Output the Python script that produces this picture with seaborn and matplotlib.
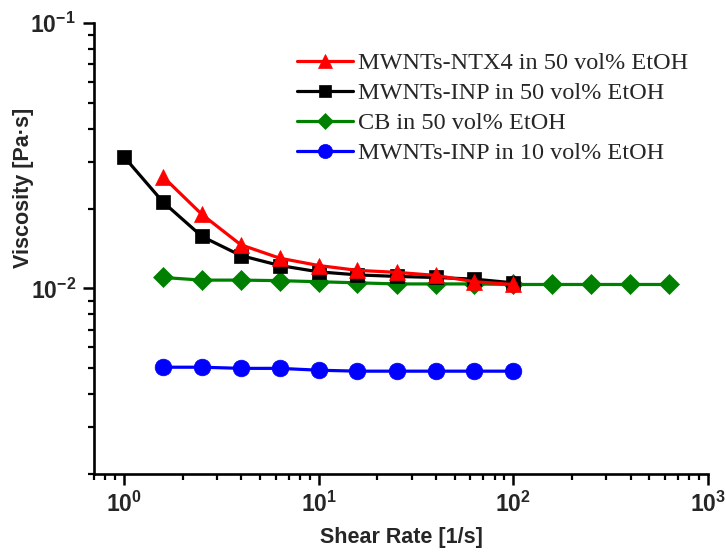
import numpy as np
import pandas as pd
import matplotlib
matplotlib.use("Agg")
import matplotlib.pyplot as plt
import matplotlib.ticker as mticker
import seaborn as sns

# ---- data ----
x_ntx4 = [1.58, 2.51, 3.98, 6.31, 10, 15.8, 25.1, 39.8, 63.1, 100]
y_ntx4 = [0.0264, 0.0190, 0.0146, 0.0130, 0.0122, 0.0117, 0.0115, 0.0112, 0.0106, 0.01035]

x_inp50 = [1.0, 1.58, 2.51, 3.98, 6.31, 10, 15.8, 25.1, 39.8, 63.1, 100]
y_inp50 = [0.0313, 0.0212, 0.0157, 0.0133, 0.0122, 0.01155, 0.01125, 0.0111, 0.0110, 0.01084, 0.0105]

x_cb = [1.58, 2.51, 3.98, 6.31, 10, 15.8, 25.1, 39.8, 63.1, 100, 158, 251, 398, 631]
y_cb = [0.0110, 0.01075, 0.01075, 0.0107, 0.0106, 0.0105, 0.0104, 0.0104, 0.0104,
        0.01035, 0.01035, 0.01035, 0.01035, 0.01035]

x_inp10 = [1.58, 2.51, 3.98, 6.31, 10, 15.8, 25.1, 39.8, 63.1, 100]
y_inp10 = [0.00505, 0.00505, 0.0050, 0.0050, 0.00492, 0.00488, 0.00488, 0.00488, 0.00488, 0.00488]

labels = ["MWNTs-NTX4 in 50 vol% EtOH", "MWNTs-INP in 50 vol% EtOH",
          "CB in 50 vol% EtOH", "MWNTs-INP in 10 vol% EtOH"]
xlabel = "Shear Rate [1/s]"
ylabel = "Viscosity [Pa\u00b7s]"

# ---- style ----
sns.set_style("ticks")
plt.rcParams["font.family"] = ["Liberation Sans", "DejaVu Sans"]
plt.rcParams["mathtext.fontset"] = "custom"
plt.rcParams["mathtext.rm"] = "Liberation Sans:bold"
plt.rcParams["mathtext.bf"] = "Liberation Sans:bold"
plt.rcParams["mathtext.it"] = "Liberation Sans:bold:italic"
plt.rcParams["mathtext.sf"] = "Liberation Sans:bold"

fig = plt.figure(figsize=(7.26, 5.54), dpi=100)
ax = fig.add_axes([94/726, 1-474/554, (708-94)/726, (474-23)/554])

series = [
    (x_ntx4, y_ntx4, "#FF0000", "^", 11.5, 5),
    (x_inp50, y_inp50, "#000000", "s", 10, 4),
    (x_cb, y_cb, "#008000", "D", 10, 3),
    (x_inp10, y_inp10, "#0000FF", "o", 12, 2),
]
for (xs, ys, c, m, ms, z), lab in zip(series, labels):
    df = pd.DataFrame({"x": xs, "y": ys})
    sns.lineplot(data=df, x="x", y="y", ax=ax, color=c, marker=m, markersize=ms,
                 markeredgecolor=c, markerfacecolor=c, markeredgewidth=0.5,
                 linewidth=2.3, label=lab, zorder=z, errorbar=None)

ax.set_xscale("log")
ax.set_yscale("log")
ax.set_xlim(0.7, 1000)
ax.set_ylim(0.002, 0.1)

fmt = mticker.FuncFormatter(lambda v, p: r"$\mathrm{10^{%d}}$" % int(round(np.log10(v))))
ax.xaxis.set_major_locator(mticker.LogLocator(base=10, numticks=10))
ax.yaxis.set_major_locator(mticker.LogLocator(base=10, numticks=10))
ax.xaxis.set_minor_locator(mticker.LogLocator(base=10, subs=np.arange(2, 10), numticks=20))
ax.yaxis.set_minor_locator(mticker.LogLocator(base=10, subs=np.arange(2, 10), numticks=20))
ax.xaxis.set_major_formatter(fmt)
ax.yaxis.set_major_formatter(fmt)
ax.xaxis.set_minor_formatter(mticker.NullFormatter())
ax.yaxis.set_minor_formatter(mticker.NullFormatter())

ax.tick_params(which="major", direction="out", length=8, width=1.8, labelsize=16.5, pad=5, color="black")
ax.tick_params(which="minor", direction="out", length=4, width=1.6, color="black")
for s in ["left", "bottom"]:
    ax.spines[s].set_linewidth(1.9)
    ax.spines[s].set_color("black")
sns.despine(ax=ax)

ax.set_xlabel(xlabel, fontsize=15.5, fontweight="bold", labelpad=7)
ax.set_ylabel(ylabel, fontsize=15.5, fontweight="bold")
ax.yaxis.set_label_coords(-0.098, 0.634)

leg = ax.legend(loc="upper left", bbox_to_anchor=(297/726, 1-52/554), bbox_transform=fig.transFigure,
                frameon=False, prop={"family": "Liberation Serif", "size": 17.5},
                handlelength=2.3, handletextpad=0.2, labelspacing=0.33, borderpad=0,
                borderaxespad=0, markerscale=0.85)

fig.savefig("out.png", dpi=100)
